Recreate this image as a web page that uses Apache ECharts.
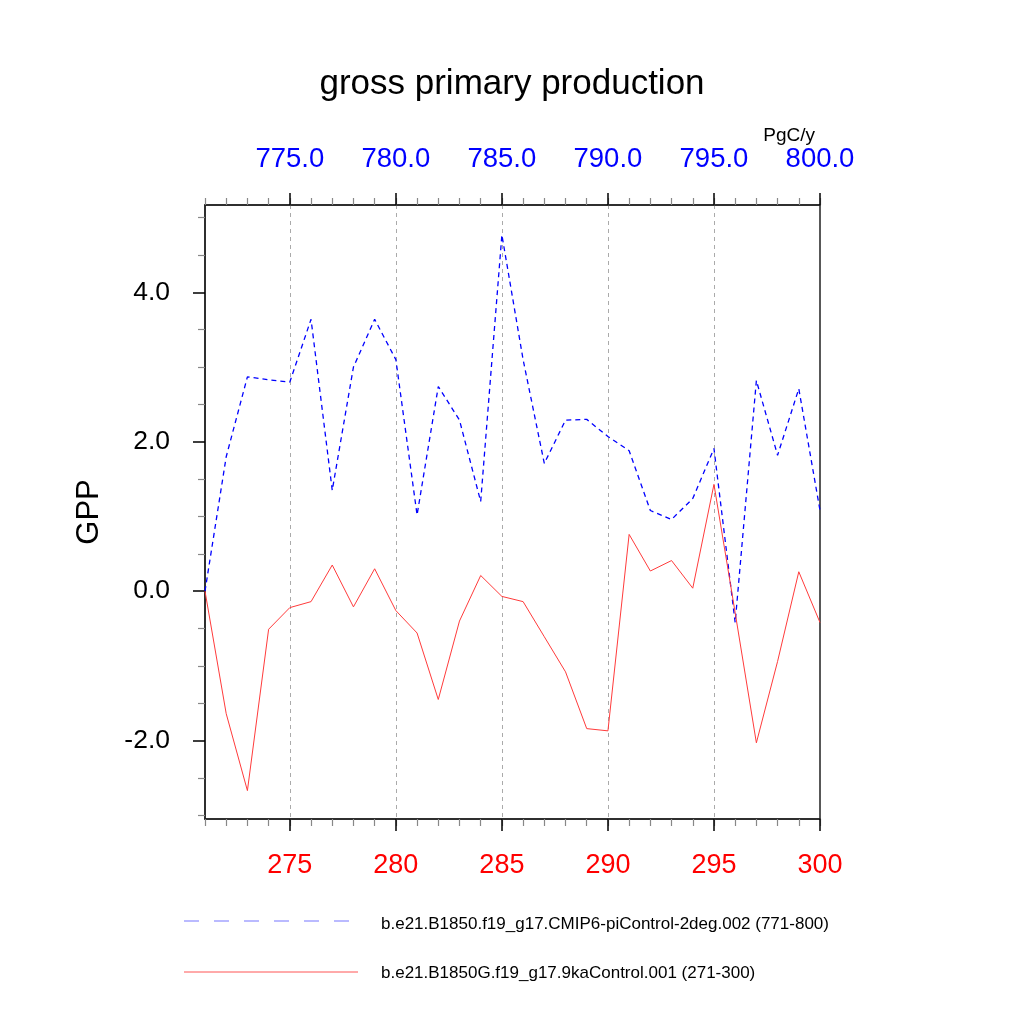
<!DOCTYPE html>
<html>
<head>
<meta charset="utf-8">
<script src="https://cdn.jsdelivr.net/npm/echarts@6/dist/echarts.min.js"></script>
<style>
  html, body { margin: 0; padding: 0; background: #fff; }
  #chart { width: 1024px; height: 1024px; }
</style>
</head>
<body>
<div id="chart"></div>
<script>
// years of each run (bottom axis = 9ka run, top axis = piControl run)
var yearsBottom = ['271','272','273','274','275','276','277','278','279','280',
                   '281','282','283','284','285','286','287','288','289','290',
                   '291','292','293','294','295','296','297','298','299','300'];
var yearsTop = ['771','772','773','774','775','776','777','778','779','780',
                '781','782','783','784','785','786','787','788','789','790',
                '791','792','793','794','795','796','797','798','799','800'];

// GPP anomaly, PgC/y
var piControl = [0.00, 1.80, 2.87, 2.83, 2.80, 3.64, 1.35, 3.00, 3.64, 3.10,
                 1.02, 2.74, 2.29, 1.20, 4.77, 3.10, 1.71, 2.29, 2.30, 2.07,
                 1.88, 1.08, 0.96, 1.24, 1.91, -0.42, 2.82, 1.82, 2.71, 1.08];
var ka9Control = [0.00, -1.64, -2.67, -0.51, -0.22, -0.14, 0.35, -0.21, 0.30, -0.26,
                  -0.56, -1.45, -0.40, 0.21, -0.07, -0.14, -0.61, -1.08, -1.84, -1.87,
                  0.76, 0.27, 0.41, 0.04, 1.43, -0.29, -2.03, -0.94, 0.26, -0.42];

var seriesNames = ['b.e21.B1850.f19_g17.CMIP6-piControl-2deg.002 (771-800)',
                   'b.e21.B1850G.f19_g17.9kaControl.001 (271-300)'];

// y axis ticks
var yMajorTicks = [-2, 0, 2, 4];
var yMinorTicks = [-3, -2.5, -1.5, -1, -0.5, 0.5, 1, 1.5, 2.5, 3, 3.5, 4.5, 5];

var yMin = -3.05, yMax = 5.17;
var font = 'Liberation Sans, Helvetica, Arial, sans-serif';

var every5 = function (idx, val) { return Number(val) % 5 === 0; };
var grid5 = function (idx, val) { return Number(val) % 5 === 0 && idx < 29; };
var grid = { left: 205, right: 204, top: 205, bottom: 205 };

var chart = echarts.init(document.getElementById('chart'));

var option = {
    backgroundColor: '#fff',
    animation: false,
    title: [{
        text: 'gross primary production',
        left: 'center', top: 62,
        textStyle: { fontFamily: font, fontSize: 35, fontWeight: 'normal', color: '#000' }
    }, {
        text: 'PgC/y',
        right: 204, top: 121,
        textStyle: { fontFamily: font, fontSize: 19, fontWeight: 'normal', color: '#000' }
    }],
    legend: {
        orient: 'vertical',
        left: 184, top: 911,
        itemWidth: 174, itemHeight: 10,
        itemGap: 32,
        icon: 'rect',
        itemStyle: { color: 'rgba(0,0,0,0)' },
        textStyle: { fontFamily: font, fontSize: 17, color: '#000', padding: [0, 0, 0, 13] },
        data: seriesNames
    },
    grid: [
        Object.assign({ show: true, borderColor: '#222', borderWidth: 1.5, backgroundColor: 'transparent' }, grid),
        Object.assign({ show: false }, grid)
    ],
    xAxis: [{
        // bottom: minor ticks + red labels + dashed grid lines
        type: 'category', gridIndex: 0, position: 'bottom',
        data: yearsBottom, boundaryGap: false,
        axisLine: { onZero: false, lineStyle: { color: '#222', width: 1.5 } },
        axisTick: { length: 7, interval: 0, lineStyle: { color: '#888', width: 1.2 } },
        axisLabel: { interval: every5, margin: 33, color: '#ff0000', fontFamily: font, fontSize: 27 },
        splitLine: { show: true, interval: grid5, lineStyle: { color: '#aaa', type: [4, 4], width: 1 } }
    }, {
        // top: minor ticks + blue labels
        type: 'category', gridIndex: 0, position: 'top',
        data: yearsTop, boundaryGap: false,
        axisLine: { onZero: false, lineStyle: { color: '#222', width: 1.5 } },
        axisTick: { length: 7, interval: 0, lineStyle: { color: '#888', width: 1.2 } },
        axisLabel: {
            interval: every5, margin: 32, color: '#0000ff', fontFamily: font, fontSize: 27.5,
            formatter: function (v) { return Number(v).toFixed(1); }
        },
        splitLine: { show: false }
    }, {
        // bottom major ticks
        type: 'category', gridIndex: 1, position: 'bottom',
        data: yearsBottom, boundaryGap: false,
        axisLine: { show: false, onZero: false },
        axisTick: { length: 12, interval: every5, lineStyle: { color: '#000', width: 1.5 } },
        axisLabel: { show: false }, splitLine: { show: false }
    }, {
        // top major ticks
        type: 'category', gridIndex: 1, position: 'top',
        data: yearsTop, boundaryGap: false,
        axisLine: { show: false, onZero: false },
        axisTick: { length: 12, interval: every5, lineStyle: { color: '#000', width: 1.5 } },
        axisLabel: { show: false }, splitLine: { show: false }
    }],
    yAxis: [{
        type: 'value', gridIndex: 0, position: 'left',
        min: yMin, max: yMax,
        name: 'GPP', nameLocation: 'middle', nameGap: 100, nameRotate: 90,
        nameTextStyle: { fontFamily: font, fontSize: 31, color: '#000' },
        axisLine: { show: true, onZero: false, lineStyle: { color: '#222', width: 1.5 } },
        axisTick: { show: true, length: 12, customValues: yMajorTicks, lineStyle: { color: '#000', width: 1.5 } },
        axisLabel: {
            margin: 35, color: '#000', fontFamily: font, fontSize: 26.5,
            customValues: yMajorTicks,
            formatter: function (v) { return v.toFixed(1); }
        },
        splitLine: { show: false }
    }, {
        // minor ticks only
        type: 'value', gridIndex: 1, position: 'left',
        min: yMin, max: yMax,
        axisLine: { show: false, onZero: false },
        axisTick: { show: true, length: 7, customValues: yMinorTicks, lineStyle: { color: '#888', width: 1.2 } },
        axisLabel: { show: false },
        splitLine: { show: false }
    }],
    series: [{
        name: seriesNames[0],
        type: 'line',
        xAxisIndex: 1, yAxisIndex: 0,
        data: piControl,
        symbol: 'none',
        lineStyle: { color: '#0000ff', width: 1.3, type: [5, 4] },
        itemStyle: { color: '#0000ff' }
    }, {
        name: seriesNames[1],
        type: 'line',
        xAxisIndex: 0, yAxisIndex: 0,
        data: ka9Control,
        symbol: 'none',
        lineStyle: { color: '#ff3b3b', width: 1 },
        itemStyle: { color: '#ff3b3b' }
    }]
};

chart.setOption(option);

// legend sample lines, drawn next to the legend rows
var legendLines = [
    { y: 921, color: '#7777ff', dash: [15, 15] },
    { y: 972, color: '#ff5555', dash: null }
];
chart.setOption({
    graphic: legendLines.map(function (l) {
        return {
            type: 'line', x: 184, y: l.y,
            shape: { x1: 0, y1: 0, x2: 174, y2: 0 },
            style: { stroke: l.color, lineWidth: 1, lineDash: l.dash }
        };
    })
});
</script>
</body>
</html>
